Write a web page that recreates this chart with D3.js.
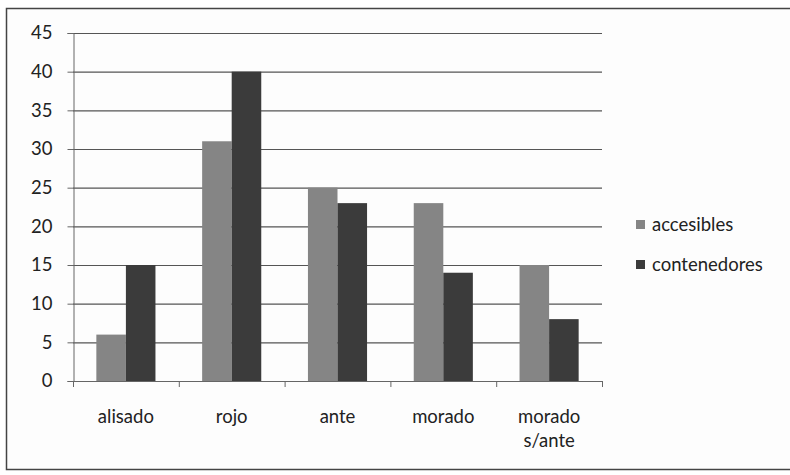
<!DOCTYPE html>
<html><head><meta charset="utf-8">
<script src="https://cdn.jsdelivr.net/npm/d3@7"></script>
<style>body{margin:0;background:#fff}svg{display:block}text{font-family:Lato,"Open Sans",sans-serif}</style>
</head><body><svg id="c" width="790" height="475"></svg>
<script>
const categories = [["alisado"],["rojo"],["ante"],["morado"],["morado","s/ante"]];
const seriesNames = ["accesibles","contenedores"];
const accesibles = [6,31,25,23,15];
const contenedores = [15,40,23,14,8];
const yTicks = [0,5,10,15,20,25,30,35,40,45];
const colors = ["#858585","#3b3b3b"];

(function(){
const FS = 18.5;
const svg = d3.select("#c");
svg.append("rect").attr("x",6.5).attr("y",8.5).attr("width",790).attr("height",461)
  .attr("fill","#fdfdfd").attr("stroke","#444").attr("stroke-width",1.5);

const pL=73, pR=602, pT=33, pB=381;
const x = d3.scaleBand().domain(d3.range(categories.length)).range([pL,pR]);
const xs = d3.scaleBand().domain(seriesNames).range([0,x.bandwidth()]).paddingInner(0).paddingOuter(0.79);
const y = d3.scaleLinear().domain([0,45]).range([pB,pT]);

svg.append("g").selectAll("line").data(yTicks.filter(d=>d>0)).join("line")
  .attr("x1",pL).attr("x2",pR).attr("y1",d=>y(d)+0.5).attr("y2",d=>y(d)+0.5)
  .attr("stroke","#555").attr("stroke-width",1.2);

const ya = svg.append("g").attr("transform",`translate(${pL+0.5},0)`)
  .call(d3.axisLeft(y).tickValues(yTicks).tickSize(6).tickPadding(15));
ya.select(".domain").attr("stroke","#666");
ya.selectAll(".tick line").attr("stroke","#666");
ya.selectAll("text").attr("font-size",FS).attr("fill","#222").attr("font-family","Lato, 'Open Sans', sans-serif");

const series = [accesibles, contenedores];
series.forEach((vals,si)=>{
  svg.append("g").selectAll("rect").data(vals).join("rect")
    .attr("x",(d,i)=>x(i)+xs(seriesNames[si]))
    .attr("width",xs.bandwidth())
    .attr("y",d=>y(d)).attr("height",d=>y(0)-y(d))
    .attr("fill",colors[si]);
});

svg.append("line").attr("x1",pL).attr("x2",pR).attr("y1",pB+0.5).attr("y2",pB+0.5).attr("stroke","#666");
svg.append("g").selectAll("line").data(d3.range(categories.length+1)).join("line")
  .attr("x1",i=>pL+i*x.bandwidth()+0.5).attr("x2",i=>pL+i*x.bandwidth()+0.5)
  .attr("y1",pB).attr("y2",pB+6).attr("stroke","#666");

const xl = svg.append("g").selectAll("text").data(categories).join("text")
  .attr("x",(d,i)=>x(i)+x.bandwidth()/2).attr("y",423)
  .attr("text-anchor","middle").attr("font-size",FS).attr("fill","#222");
xl.selectAll("tspan").data(d=>d).join("tspan")
  .attr("x",function(){return d3.select(this.parentNode).attr("x");})
  .attr("dy",(d,j)=>j===0?0:24).text(d=>d);

const lg = svg.append("g").selectAll("g").data(seriesNames).join("g")
  .attr("transform",(d,i)=>`translate(636,${225+i*40})`);
lg.append("rect").attr("x",0).attr("y",-5).attr("width",9).attr("height",9).attr("fill",(d,i)=>colors[i]);
lg.append("text").attr("x",16).attr("y",6).attr("font-size",FS).attr("fill","#222").text(d=>d);
})();
</script></body></html>
